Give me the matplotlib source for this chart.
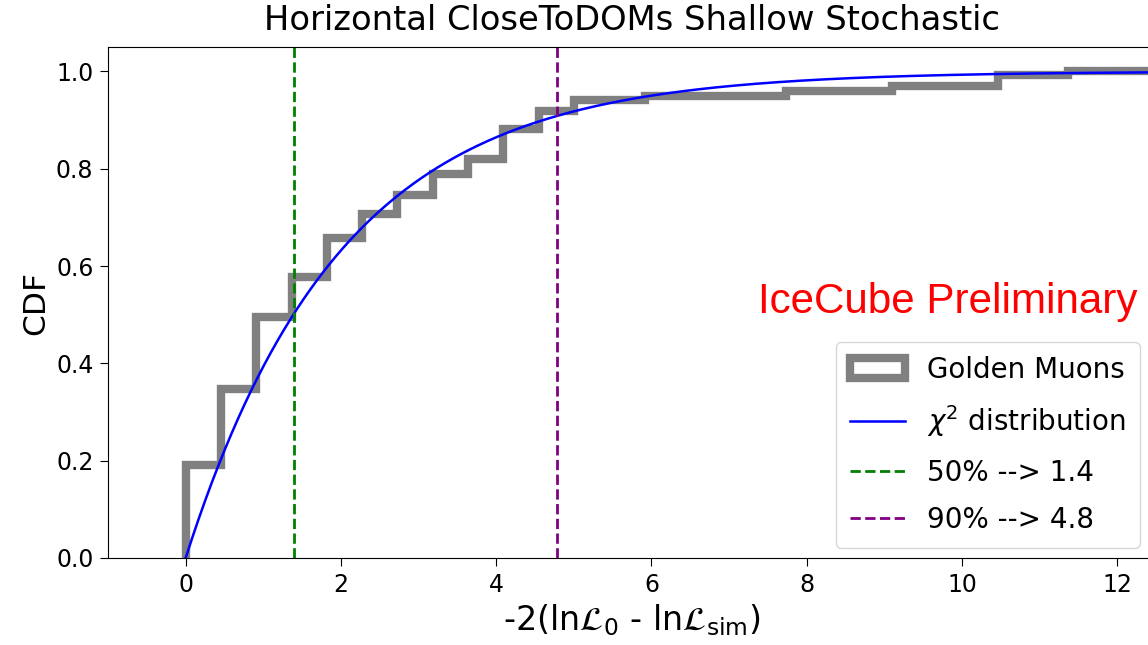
import numpy as np
import matplotlib
matplotlib.use("Agg")
import matplotlib.pyplot as plt

# binned CDF of the golden muon sample (30 equal bins from 0)
bin_lo = 0.0
bin_hi = 13.64
n_bins = 30
cdf_levels = [0.192, 0.347, 0.496, 0.577, 0.658, 0.707, 0.746, 0.789, 0.820, 0.882,
              0.918, 0.941, 0.941, 0.949, 0.949, 0.949, 0.949, 0.959, 0.959, 0.959,
              0.969, 0.969, 0.969, 0.993, 0.993, 1.0, 1.0, 1.0, 1.0, 1.0]

# chi2 reference curve, 2 degrees of freedom
chi2_dof = 2
q50 = 1.39
q90 = 4.78

edges = np.linspace(bin_lo, bin_hi, n_bins + 1)
x_chi2 = np.linspace(0, 12.6, 600)
cdf_chi2 = 1 - np.exp(-x_chi2 / chi2_dof)

fig = plt.figure(figsize=(11.48, 6.45), dpi=100)
ax = fig.add_axes([0.0941, 0.1349, 0.913, 0.7921])

ax.hist(edges[:-1], bins=edges, weights=cdf_levels, histtype="step",
        color="gray", linewidth=6, label="Golden Muons")
ax.plot(x_chi2, cdf_chi2, color="blue", linewidth=1.8, label=r"$\chi^2$ distribution")
ax.axvline(q50, color="green", linestyle="--", linewidth=2, label="50% --> 1.4")
ax.axvline(q90, color="purple", linestyle="--", linewidth=2, label="90% --> 4.8")

ax.set_xlim(-1, 12.5)
ax.set_ylim(0, 1.05)
ax.set_xticks([0, 2, 4, 6, 8, 10, 12])
ax.set_yticks([0.0, 0.2, 0.4, 0.6, 0.8, 1.0])
ax.tick_params(labelsize=17, length=5.5, pad=5)

ax.set_title("Horizontal CloseToDOMs Shallow Stochastic", fontsize=24.3, pad=12)
ax.set_xlabel(r"-2(ln$\mathcal{L}_0$ - ln$\mathcal{L}_{\mathrm{sim}}$)", fontsize=24)
ax.set_ylabel("CDF", fontsize=22.5)

ax.legend(loc="lower right", bbox_to_anchor=(1140 / 1148, 97 / 645),
          bbox_transform=fig.transFigure, fontsize=20, labelspacing=0.7,
          borderpad=0.5, borderaxespad=0)

fig.text(1137 / 1148, 332 / 645, "IceCube Preliminary", color="red",
         fontsize=30.3, family="Liberation Sans", ha="right", va="baseline")

fig.savefig("out.png", dpi=100)
